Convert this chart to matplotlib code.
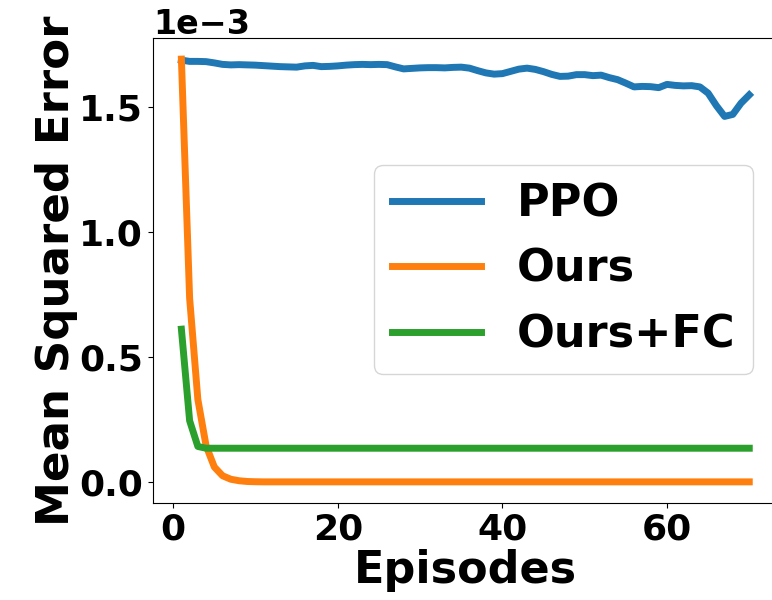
import numpy as np
import matplotlib
matplotlib.use('Agg')
import matplotlib.pyplot as plt

episodes = np.arange(1, 71)

# values in units of 1e-3
ppo = [1.687, 1.682, 1.682, 1.681, 1.676,
       1.670, 1.668, 1.669, 1.668, 1.667,
       1.665, 1.663, 1.661, 1.660, 1.659,
       1.664, 1.666, 1.661, 1.662, 1.664,
       1.667, 1.669, 1.670, 1.669, 1.670,
       1.669, 1.660, 1.652, 1.654, 1.656,
       1.657, 1.657, 1.656, 1.658, 1.659,
       1.655, 1.645, 1.636, 1.631, 1.633,
       1.642, 1.651, 1.655, 1.650, 1.641,
       1.630, 1.622, 1.623, 1.629, 1.629,
       1.625, 1.627, 1.617, 1.609, 1.595,
       1.580, 1.582, 1.581, 1.577, 1.590,
       1.586, 1.584, 1.585, 1.580, 1.555,
       1.505, 1.462, 1.470, 1.515, 1.548]

ours_head = [1.691, 0.735, 0.330, 0.145, 0.060, 0.025, 0.011, 0.005, 0.002, 0.001]
ours = ours_head + [0.0005] * 60

ours_fc_head = [0.611, 0.245, 0.142]
ours_fc = ours_fc_head + [0.135] * 67

scale = 1e-3

fig = plt.figure(figsize=(7.72, 6.0), dpi=100)
# right edge of the axes sits past the figure edge, as in the reference
ax = fig.add_axes([153 / 772, 1 - 503 / 600, 640 / 772, (503 - 38) / 600])

ax.plot(episodes, np.array(ppo) * scale, color='#1f77b4', lw=5, label='PPO')
ax.plot(episodes, np.array(ours) * scale, color='#ff7f0e', lw=5, label='Ours')
ax.plot(episodes, np.array(ours_fc) * scale, color='#2ca02c', lw=5, label='Ours+FC')

ax.set_xlim(-2.45, -2.45 + 640 / 8.23)
ax.set_xticks([0, 20, 40, 60])
ax.set_yticks([0, 0.5e-3, 1.0e-3, 1.5e-3])
ax.ticklabel_format(axis='y', style='sci', scilimits=(0, 0))

for lbl in ax.get_xticklabels() + ax.get_yticklabels():
    lbl.set_fontsize(26)
    lbl.set_fontweight('bold')
ax.yaxis.get_offset_text().set_fontsize(24)
ax.yaxis.get_offset_text().set_fontweight('bold')

ax.set_xlabel('Episodes', fontsize=32, fontweight='bold', labelpad=2)
ax.xaxis.label.set_x((465 - 153) / 640)
ax.set_ylabel('Mean Squared Error', fontsize=32.5, fontweight='bold', labelpad=1)

ax.legend(loc='upper right', bbox_to_anchor=(753 / 772, 1 - 165 / 600),
          bbox_transform=fig.transFigure, borderaxespad=0,
          prop={'size': 32, 'weight': 'bold'})

fig.savefig('out.png', dpi=100)
